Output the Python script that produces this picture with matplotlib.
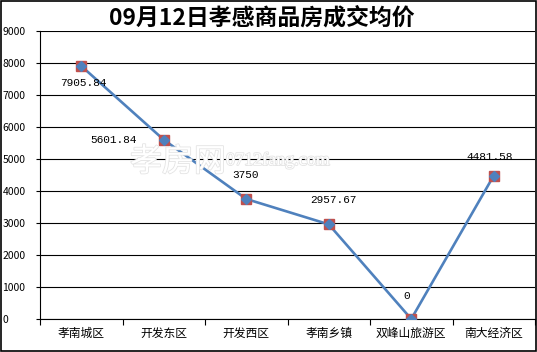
import matplotlib
matplotlib.use("Agg")
import matplotlib.pyplot as plt
import matplotlib.patheffects as pe

plt.rcParams['font.family'] = ['Noto Sans CJK SC', 'DejaVu Sans']

# === 数据 ===
areas = ['孝南城区', '开发东区', '开发西区', '孝南乡镇', '双峰山旅游区', '南大经济区']
prices = [7905.84, 5601.84, 3750, 2957.67, 0, 4481.58]
price_labels = ['7905.84', '5601.84', '3750', '2957.67', '0', '4481.58']
yticks = list(range(0, 9001, 1000))
title = '09月12日孝感商品房成交均价'

# label offsets in pixels (dx, dy)
offsets = [(2, -17), (-50, 0), (-1, 24), (5, 24), (-5, 23), (-4, 19)]

fig = plt.figure(figsize=(5.37, 3.52), dpi=100)
ax = fig.add_axes([40 / 537, 33 / 352, 495 / 537, 288 / 352])

x = list(range(len(areas)))
ax.plot(x, prices, color='#4F81BD', lw=1.9, zorder=3)
ax.plot(x, prices, ls='none', marker='s', ms=7, color='#C0504D', zorder=4)
ax.plot(x, prices, ls='none', marker='D', ms=5.5, color='#4F81BD', zorder=5)

for xi, yi, lab, (dx, dy) in zip(x, prices, price_labels, offsets):
    ax.annotate(lab, (xi, yi), xytext=(dx, dy), textcoords='offset pixels',
                ha='center', va='center', fontsize=8,
                family=['Liberation Mono', 'DejaVu Sans Mono'], zorder=6)

ax.set_xlim(-0.5, len(areas) - 0.5)
ax.set_ylim(0, 9000)
ax.set_yticks(yticks)
ax.set_yticklabels([str(v) for v in yticks], fontsize=7.5, ha='left')
ax.tick_params(axis='y', length=3, width=0.8, pad=24)
ax.set_xticks(x)
ax.set_xticklabels(areas, fontsize=8.5)
ax.set_xticks([i - 0.5 for i in range(len(areas) + 1)], minor=True)
ax.tick_params(axis='x', which='major', length=0, pad=6)
ax.tick_params(axis='x', which='minor', length=4, width=0.8)
ax.grid(axis='y', color='black', lw=0.8)
ax.set_axisbelow(True)
for s in ['top', 'right']:
    ax.spines[s].set_visible(False)
ax.spines['left'].set_linewidth(0.8)
ax.spines['bottom'].set_linewidth(0.8)

# 水印
fig.text(130 / 537, 1 - 162 / 352, '孝房网', fontsize=23, color='white',
         va='center', ha='left', zorder=0,
         path_effects=[pe.withStroke(linewidth=1.2, foreground='#e4e4e4')])
fig.text(226 / 537, 1 - 160 / 352, '0712fang.com', fontsize=13, color='white',
         va='center', ha='left', family=['Liberation Serif'], zorder=0,
         path_effects=[pe.withStroke(linewidth=1.2, foreground='#e4e4e4')])

fig.text(262 / 537, 1 - 18 / 352, title, fontsize=16.5, fontweight='bold',
         ha='center', va='center')

# 外框
fig.patches.append(plt.Rectangle((0.001, 0.002), 0.997, 0.996, transform=fig.transFigure,
                                 fill=False, ec='black', lw=1.2))

fig.savefig('out.png', dpi=100)
